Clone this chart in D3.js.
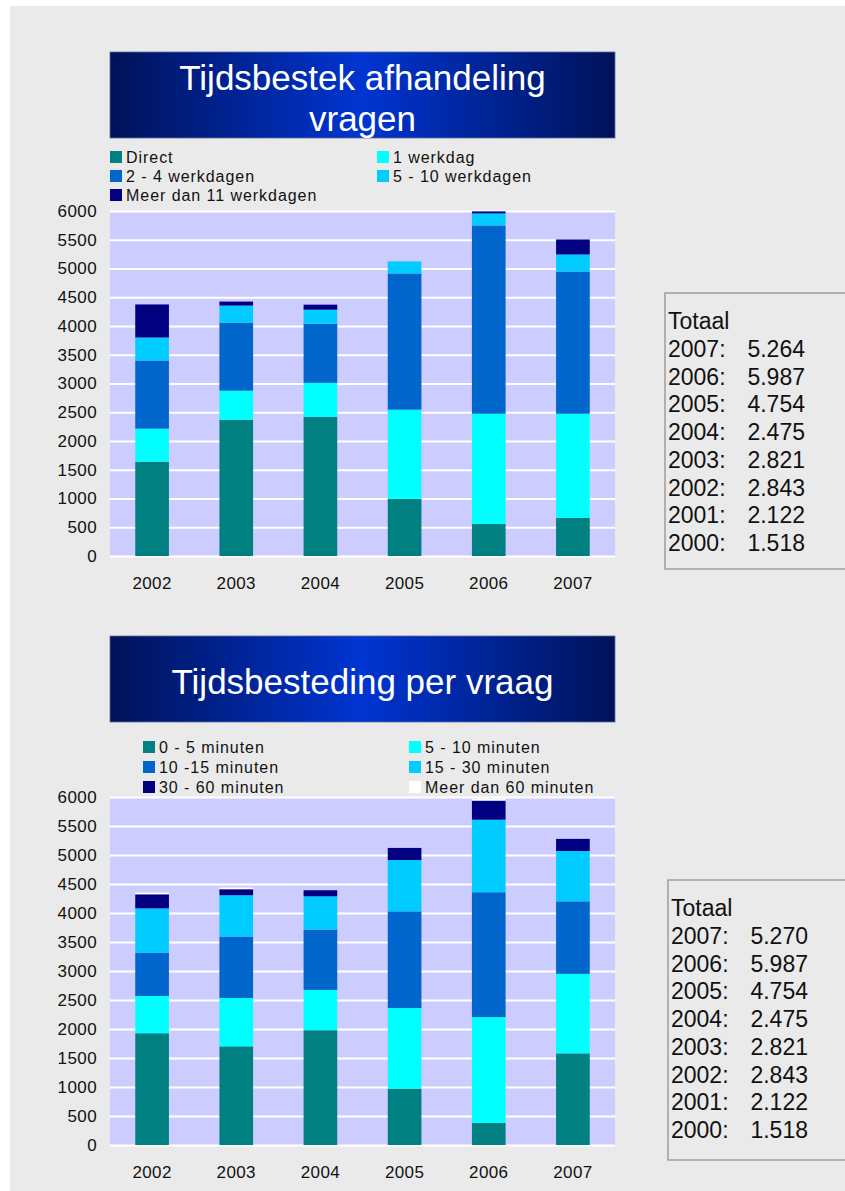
<!DOCTYPE html>
<html><head><meta charset="utf-8">
<script src="https://cdn.jsdelivr.net/npm/d3@7"></script>
<style>
html,body{margin:0;padding:0;background:#fff;}
svg{display:block;font-family:"Liberation Sans",Arial,sans-serif;}
</style></head>
<body>
<svg id="c" width="845" height="1191"></svg>
<script>
// ---------- DATA ----------
const years = ["2002","2003","2004","2005","2006","2007"];
const yTicks = [0,500,1000,1500,2000,2500,3000,3500,4000,4500,5000,5500,6000];

const series1Names = ["Direct","1 werkdag","2 - 4 werkdagen","5 - 10 werkdagen","Meer dan 11 werkdagen"];
const direct      = [1640, 2370, 2420,  995,  557,  662];
const werkdag1    = [ 575,  505,  592, 1550, 1917, 1812];
const werkdag2_4  = [1185, 1184, 1028, 2369, 3275, 2474];
const werkdag5_10 = [ 400,  296,  244,  209,  209,  296];
const werkdag11   = [ 575,   70,   87,    0,   35,  261];

const series2Names = ["0 - 5 minuten","5 - 10 minuten","10 -15 minuten","15 - 30 minuten","30 - 60 minuten","Meer dan 60 minuten"];
const min0_5   = [1927, 1701, 1979,  972,  382, 1580];
const min5_10  = [ 642,  834,  695, 1389, 1823, 1371];
const min10_15 = [ 747, 1059, 1041, 1667, 2153, 1250];
const min15_30 = [ 764,  712,  573,  885, 1250,  868];
const min30_60 = [ 243,  104,  104,  209,  330,  209];
const min60    = [  29,   29,    0,    0,   34,    0];

const totalYears = ["2007","2006","2005","2004","2003","2002","2001","2000"];
const totals1 = ["5.264","5.987","4.754","2.475","2.821","2.843","2.122","1.518"];
const totals2 = ["5.270","5.987","4.754","2.475","2.821","2.843","2.122","1.518"];

const colors1 = ["#008080","#00ffff","#0066cc","#00ccff","#000080"];
const colors2 = ["#008080","#00ffff","#0066cc","#00ccff","#000080","#ffffff"];

// ---------- DRAW ----------
const FONT = "Liberation Sans, Arial, sans-serif";
const svg = d3.select("#c");
svg.append("rect").attr("x",10).attr("y",6).attr("width",835).attr("height",1185).attr("fill","#eaeaea");

const defs = svg.append("defs");
const g = defs.append("linearGradient").attr("id","tg").attr("x1","0").attr("x2","1").attr("y1","0").attr("y2","0");
g.append("stop").attr("offset","0").attr("stop-color","#001258");
g.append("stop").attr("offset","0.5").attr("stop-color","#0035d2");
g.append("stop").attr("offset","1").attr("stop-color","#001258");

function banner(y, h, lines, lineYs){
  svg.append("rect").attr("x",110).attr("y",y).attr("width",505).attr("height",h)
    .attr("fill","url(#tg)").attr("stroke","#5a6fa0").attr("stroke-width",0.8);
  lines.forEach((t,i)=>{
    svg.append("text").attr("x",362.5).attr("y",lineYs[i]).attr("text-anchor","middle")
      .attr("dominant-baseline","central").attr("fill","#fff").attr("font-size",35).text(t);
  });
}

function legend(names, colors, x1, x2, rowYs){
  names.forEach((n,i)=>{
    const x = i%2===0 ? x1 : x2;
    const y = rowYs[Math.floor(i/2)];
    svg.append("rect").attr("x",x).attr("y",y-6).attr("width",12).attr("height",12).attr("fill",colors[i]);
    svg.append("text").attr("x",x+16).attr("y",y).attr("dominant-baseline","central")
      .attr("font-size",16).attr("letter-spacing",0.95).attr("fill","#111").text(n);
  });
}

function chart(top, bottom, arrays, colors, xLabelY){
  const x = d3.scaleBand().domain(years).range([110,615]).paddingInner(0.6).paddingOuter(0.3);
  const y = d3.scaleLinear().domain([0,6000]).range([bottom, top]);
  svg.append("rect").attr("x",110).attr("y",top).attr("width",505).attr("height",bottom-top).attr("fill","#ccccff");
  const ga = svg.append("g").attr("transform","translate(110,0)")
    .call(d3.axisLeft(y).tickValues(yTicks).tickSize(-505).tickFormat(d3.format("d")).tickPadding(13));
  ga.select(".domain").remove();
  ga.selectAll(".tick line").attr("stroke","#fff").attr("stroke-width",2);
  ga.selectAll(".tick text").attr("font-size",17).attr("letter-spacing",0.4).attr("fill","#111").attr("font-family",FONT);

  const rows = years.map((yr,i)=>{ const o={year:yr}; arrays.forEach((a,k)=>o["s"+k]=a[i]); return o; });
  const keys = arrays.map((a,k)=>"s"+k);
  const stacked = d3.stack().keys(keys)(rows);
  stacked.forEach((layer,k)=>{
    svg.append("g").selectAll("rect").data(layer).join("rect")
      .attr("x",d=>x(d.data.year)).attr("width",x.bandwidth())
      .attr("y",d=>y(d[1])).attr("height",d=>Math.max(0,y(d[0])-y(d[1])))
      .attr("fill",colors[k]);
  });

  const gx = svg.append("g").attr("transform",`translate(0,${bottom})`)
    .call(d3.axisBottom(x).tickSize(0).tickPadding(xLabelY-bottom-6));
  gx.select(".domain").remove();
  gx.selectAll(".tick text").attr("font-size",17).attr("letter-spacing",0.4).attr("fill","#111").attr("font-family",FONT);
}

function totalsBox(x, y, w, h, firstY, vals){
  svg.append("rect").attr("x",x).attr("y",y).attr("width",w).attr("height",h)
    .attr("fill","#eaeaea").attr("stroke","#8a8a8a").attr("stroke-width",1.2);
  const step = 27.75;
  svg.append("text").attr("x",x+3).attr("y",firstY).attr("dominant-baseline","central")
    .attr("font-size",23).attr("fill","#111").text("Totaal");
  totalYears.forEach((yr,i)=>{
    const ty = firstY + step*(i+1);
    svg.append("text").attr("x",x+3).attr("y",ty).attr("dominant-baseline","central")
      .attr("font-size",23).attr("fill","#111").text(yr+":");
    svg.append("text").attr("x",x+140).attr("y",ty).attr("dominant-baseline","central")
      .attr("text-anchor","end")
      .attr("font-size",23).attr("fill","#111").text(vals[i]);
  });
}

// Top chart
banner(52, 86, ["Tijdsbestek afhandeling","vragen"], [77,118]);
legend(series1Names, colors1, 110, 377, [157,176,195]);
chart(211, 556, [direct,werkdag1,werkdag2_4,werkdag5_10,werkdag11], colors1, 583);
totalsBox(665, 293, 185, 276, 321, totals1);

// Bottom chart
banner(636, 86, ["Tijdsbesteding per vraag"], [681]);
legend(series2Names, colors2, 143, 409, [747,767,787]);
chart(797, 1145, [min0_5,min5_10,min10_15,min15_30,min30_60,min60], colors2, 1172);
totalsBox(668, 880, 185, 280, 908, totals2);
</script>
</body></html>
